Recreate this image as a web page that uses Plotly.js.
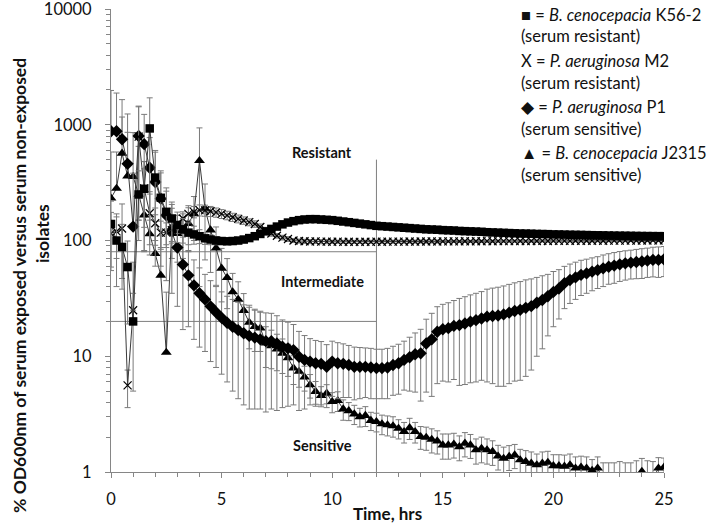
<!DOCTYPE html>
<html>
<head>
<meta charset="utf-8">
<script src="https://cdn.plot.ly/plotly-3.0.1.min.js"></script>
<style>html,body{margin:0;padding:0;background:#fff;}#chart{width:709px;height:528px;}</style>
</head>
<body>
<div id="chart"></div>
<script>
// ---- data ----
const timeHrs = [0,0.25,0.5,0.75,1,1.25,1.5,1.75,2,2.25,2.5,2.75,3,3.25,3.5,3.75,4,4.25,4.5,4.75,5,5.25,5.5,5.75,6,6.25,6.5,6.75,7,7.25,7.5,7.75,8,8.25,8.5,8.75,9,9.25,9.5,9.75,10,10.25,10.5,10.75,11,11.25,11.5,11.75,12,12.25,12.5,12.75,13,13.25,13.5,13.75,14,14.25,14.5,14.75,15,15.25,15.5,15.75,16,16.25,16.5,16.75,17,17.25,17.5,17.75,18,18.25,18.5,18.75,19,19.25,19.5,19.75,20,20.25,20.5,20.75,21,21.25,21.5,21.75,22,22.25,22.5,22.75,23,23.25,23.5,23.75,24,24.25,24.5,24.75,25];

// B. cenocepacia K56-2 (squares)
const k56Values = [139,100,88,59,20,250,280,930,350,234,
  177,155,136,125,117,113,109,104.5,102,100,
  99,98.5,99,100,102,105,109,114,120,126,
  132,138,143,147,150,152,153,153,152,151,
  150,148,146,144,142,140,138,136,134,133,
  132,131,130,129,128,127,126,125,124.5,124,
  123,122.5,122,121,120.5,120,119.5,119,118,117.5,
  117,116.5,116,115.5,115,114.8,114.5,114,113.8,113.5,
  113,112.8,112.5,112.2,112,111.8,111.5,111.2,111,110.8,
  110.5,110.3,110.1,110,109.8,109.6,109.4,109.3,109.2,109.1,109];
const k56Err = [80,60,50,40,15,150,200,780,250,150,
  90,60,40,30,25,20,15,12,10,8,
  6,6,6,6,6,6,6,6,6,6,6,6,6,6,6,6,6,6,6,6,
  5,5,5,5,5,5,5,5,5,5,5,5,5,5,5,5,5,5,5,5,
  4,4,4,4,4,4,4,4,4,4,4,4,4,4,4,4,4,4,4,4,
  3,3,3,3,3,3,3,3,3,3,3,3,3,3,3,3,3,3,3,3,3];

// P. aeruginosa M2 (X)
const m2Values = [115,120,127,5.6,25,790,282,172,141,117,
  117,123,140,155,170,177,183,182,179,175,
  170,165,159,154,149,144,139,131,123,115,
  110,106,103,100,99,98.5,98,98.2,97.8,97.9,
  97.6,97.7,97.5,97.6,97.4,97.5,97.6,97.5,97.7,97.6,
  97.8,97.7,97.9,97.8,98,97.9,98.1,98,98.2,98.1,
  98.3,98.2,98.4,98.3,98.5,98.4,98.6,98.5,98.7,98.6,
  98.8,98.7,98.9,98.8,99,98.9,99.1,99,99.2,99.1,
  99.3,99.2,99.4,99.3,99.5,99.4,99.6,99.5,99.7,99.6,
  99.8,99.7,99.9,99.8,100,99.9,100.1,100,100.2,100.1,100.2];
const m2Err = [60,50,80,2,40,640,200,80,50,30,
  25,25,25,22,22,20,20,20,18,16,
  15,14,13,12,11,10,9,8,7,6,
  5,5,5,4,4,4,4,4,4,4,3,3,3,3,3,3,3,3,3,3,
  3,3,3,3,3,3,3,3,3,3,2,2,2,2,2,2,2,2,2,2,
  2,2,2,2,2,2,2,2,2,2,2,2,2,2,2,2,2,2,2,2,2,2,2,2,2,2,2,2,2,2,2];

// P. aeruginosa P1 (diamonds)
const p1Values = [880,880,750,460,132,800,680,425,320,230,
  165,120,87,62,50,41,35,31,27,24,
  21.5,19.5,18,16.8,15.8,15,14.5,14,13.5,13.5,
  12.9,12.1,11.7,11.3,9.9,9.3,9.0,8.7,8.6,8.1,
  9.0,8.7,8.6,8.4,8.1,8.1,8.1,8.0,7.9,7.9,
  8.0,8.4,8.7,9.3,9.8,10.4,10.6,12.9,14.0,16.3,
  17.1,17.5,18.3,18.6,19.2,19.9,20.5,21.2,22,22.3,
  22.5,23,23.8,24.6,25.2,26.2,27.1,29,30.6,33,
  36,38.5,42.8,45.6,48,50.5,52,53.8,55.5,57.5,
  59.4,60.7,62.3,63.5,64.5,65.3,66,67,68,68,68.8];
const p1Err = [1100,1000,900,780,250,650,550,350,260,170,
  120,85,60,45,32,27,23,20,18,16,
  14.5,13.5,13,12.5,12,11.5,11,10.5,10.2,10,
  9.5,8.5,8,7.5,6.5,5.8,5.2,5,4.8,4.5,
  4.5,4.4,4.2,4,3.9,3.8,3.7,3.7,3.6,3.6,
  3.7,3.8,4,4.2,4.8,5.5,6.5,8,9.5,10.5,
  11,11.5,12,13,13.5,14,14.5,15,16,16.5,
  17,17.5,18,18.5,19,19.5,19.5,19,19,18,
  18,17.5,17,17,17,17,17,17,17,17.5,
  17.5,18,18,18,18,18.5,19,19,19.5,20,20];

// B. cenocepacia J2315 (triangles)
const j2315Values = [232,282,567,361,356,251,166,114,77,50,
  10.8,130,115,120,140,170,490,188,123,86,
  57.5,47.8,36,31,24.8,19.6,18,17.5,13,12.3,
  11.5,10.6,9.7,7.9,7.4,6.6,5.65,4.95,4.56,4.78,
  4.05,4.13,3.5,3.38,3.17,3.0,3.07,2.78,2.72,2.6,
  2.55,2.5,2.38,2.23,2.41,2.23,2.02,1.99,1.91,1.85,
  1.71,1.71,1.74,1.65,1.77,1.71,1.55,1.6,1.55,1.5,
  1.37,1.31,1.36,1.4,1.27,1.23,1.19,1.15,1.19,1.21,
  1.13,1.13,1.12,1.15,1.08,1.1,1.08,1.03,1.08,0.85,
  0.9,0.82,0.88,0.9,0.85,0.92,1.01,0.9,0.88,1.08,1.1];
const j2315Err = [350,300,600,500,500,400,250,150,90,60,
  25,60,50,50,60,70,450,120,70,45,
  28,22,16,13,10,8,7,6.5,5,4.5,
  4,3.5,3,2.2,2,1.6,1.3,1.1,0.9,0.9,
  0.8,0.8,0.7,0.6,0.6,0.55,0.6,0.5,0.5,0.5,
  0.5,0.5,0.45,0.45,0.5,0.45,0.45,0.45,0.45,0.42,
  0.42,0.42,0.42,0.4,0.42,0.4,0.38,0.4,0.38,0.36,
  0.33,0.33,0.33,0.33,0.3,0.3,0.3,0.28,0.3,0.3,
  0.28,0.28,0.28,0.28,0.27,0.27,0.27,0.25,0.27,0.35,
  0.3,0.38,0.35,0.3,0.35,0.33,0.3,0.35,0.35,0.25,0.22];

// classification boundaries
const resistantFloor = 80;
const sensitiveCeiling = 20;
const cutoffTime = 12;
const cutoffTop = 500;
const axisFloor = 1;

const xTickVals = [0,5,10,15,20,25];
const yTickVals = [1,10,100,1000,10000];
const yTickText = ['1','10','100','1000','10000'];
const yMinorVals = [2,3,4,5,6,7,8,9,20,30,40,50,60,70,80,90,200,300,400,500,600,700,800,900,2000,3000,4000,5000,6000,7000,8000,9000];

const legendLines = [
  '■ = <i>B. cenocepacia</i> K56-2', '(serum resistant)',
  'X = <i>P. aeruginosa</i> M2', '(serum resistant)',
  '◆ = <i>P. aeruginosa</i> P1', '(serum sensitive)',
  '▲ = <i>B. cenocepacia</i> J2315', '(serum sensitive)'
];
const legendY = [0.987,0.942,0.888,0.840,0.788,0.741,0.689,0.6415];

// ---- chart ----
const FONT = 'Lato, "Open Sans", sans-serif';
const GRAY = '#868686';
const ERRC = '#7a7a7a';

function series(y, err, symbol, size, lineW) {
  // on a log axis a lower bar that would reach zero is not drawn (as in the original)
  const minus = err.map((e, i) => (e < y[i] ? e : 0));
  return {
    x: timeHrs, y: y, type: 'scatter', mode: 'lines+markers',
    line: {color: '#3a3a3a', width: 1},
    marker: {symbol: symbol, size: size, color: '#000', line: {color: '#000', width: lineW}},
    error_y: {type: 'data', symmetric: false, array: err, arrayminus: minus, visible: true, color: ERRC, thickness: 1, width: 3},
    hoverinfo: 'x+y', cliponaxis: true
  };
}
function refLine(xs, ys) {
  return {x: xs, y: ys, type: 'scatter', mode: 'lines', line: {color: '#7f7f7f', width: 1}, hoverinfo: 'skip'};
}

const traces = [
  refLine([0, cutoffTime], [resistantFloor, resistantFloor]),
  refLine([0, cutoffTime], [sensitiveCeiling, sensitiveCeiling]),
  refLine([cutoffTime, cutoffTime], [cutoffTop, axisFloor]),
  series(j2315Values, j2315Err, 'triangle-up', 9.5, 0),
  series(p1Values, p1Err, 'diamond', 9.5, 0),
  series(m2Values, m2Err, 'x-thin-open', 8, 1.2),
  series(k56Values, k56Err, 'square', 8.5, 0)
];

const annotations = [];
legendLines.forEach((t, i) => annotations.push({
  xref: 'paper', yref: 'paper', x: 0.738, y: legendY[i], xanchor: 'left', yanchor: 'middle',
  text: t, showarrow: false, font: {family: FONT, size: 16.5, color: '#111'}
}));
[['Resistant', 0.689], ['Intermediate', 0.4125], ['Sensitive', 0.058]].forEach(r => annotations.push({
  xref: 'x', yref: 'paper', x: 9.54, y: r[1], xanchor: 'center', yanchor: 'middle',
  text: '<b>' + r[0] + '</b>', showarrow: false, font: {family: FONT, size: 14.5, color: '#111'}
}));
annotations.push({
  xref: 'paper', yref: 'paper', x: -0.1646, y: 0.404, xanchor: 'center', yanchor: 'middle', textangle: -90,
  text: '<b>% OD600nm of serum exposed versus serum non-exposed</b>', showarrow: false,
  font: {family: FONT, size: 17.5, color: '#111'}
});
annotations.push({
  xref: 'paper', yref: 'paper', x: -0.1248, y: 0.516, xanchor: 'center', yanchor: 'middle', textangle: -90,
  text: '<b>isolates</b>', showarrow: false, font: {family: FONT, size: 17.5, color: '#111'}
});

const layout = {
  width: 709, height: 528,
  margin: {l: 111, r: 45, t: 9, b: 56},
  paper_bgcolor: '#fff', plot_bgcolor: '#fff',
  showlegend: false,
  font: {family: FONT, color: '#111'},
  xaxis: {
    range: [0, 25], tickmode: 'array', tickvals: xTickVals,
    ticks: 'outside', ticklen: 5, tickcolor: GRAY, tickwidth: 1,
    showline: true, linecolor: GRAY, linewidth: 1, showgrid: false, zeroline: false,
    minor: {ticks: 'outside', ticklen: 4, tickcolor: GRAY, dtick: 1, showgrid: false},
    tickfont: {family: FONT, size: 16.5, color: '#111'}, ticklabelstandoff: 7, ticklabeloverflow: 'allow',
    title: {text: '<b>Time, hrs</b>', font: {family: FONT, size: 17, color: '#111'}, standoff: 0}
  },
  yaxis: {
    type: 'log', range: [0, 4.0005], tickmode: 'array', tickvals: yTickVals, ticktext: yTickText,
    ticks: 'outside', ticklen: 5, tickcolor: GRAY, tickwidth: 1,
    showline: true, linecolor: GRAY, linewidth: 1, showgrid: false, zeroline: false,
    minor: {ticks: 'outside', ticklen: 4, tickcolor: GRAY, tickmode: 'array', tickvals: yMinorVals, showgrid: false},
    tickfont: {family: FONT, size: 16.5, color: '#111'}, ticklabelstandoff: 10, ticklabeloverflow: 'allow'
  },
  annotations: annotations
};

Plotly.newPlot('chart', traces, layout, {displayModeBar: false, staticPlot: true});
</script>
</body>
</html>
